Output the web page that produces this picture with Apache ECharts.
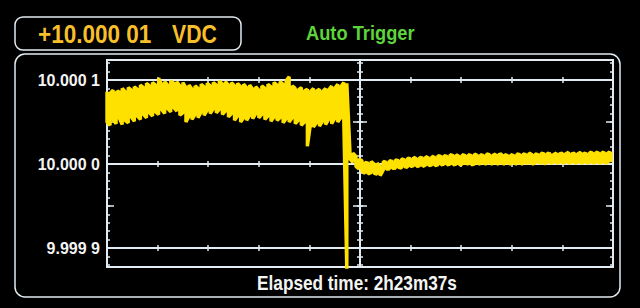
<!DOCTYPE html>
<html><head><meta charset="utf-8">
<script src="https://cdn.jsdelivr.net/npm/echarts@6/dist/echarts.min.js"></script>
<style>html,body{margin:0;padding:0;background:#000;}#c{width:640px;height:308px;}</style>
</head><body><div id="c"></div>
<script>
// ---- text ----
const readoutValue = '+10.000 01';
const readoutUnit = 'VDC';
const triggerText = 'Auto Trigger';
const elapsedText = 'Elapsed time: 2h23m37s';
// ---- y axis (deviation from 10 V, in µV) ----
const yTickValues = [-100, 0, 100];
const yTickLabels = ['9.999 9', '10.000 0', '10.000 1'];
// ---- trend columns (min / max per display column, µV from 10 V) ----
const colStep = 6; // x units per column, x runs 0..1000
const hiBefore = [86,84,88,85,87,90,86,91,88,92,89,94,91,96,93,97,94,102,95,98,94,99,96,98,93,97,91,94,89,93,90,95,92,96,93,97,94,99,95,98,94,97,93,96,92,95,91,94,89,92,88,93,90,95,92,97,94,98,95,99,104,93,90,88,91,87,89,86,90,87,89,86,90,88,93,90,95,92,97];
const loBefore = [50,46,53,48,55,47,52,49,56,51,57,53,59,55,61,57,62,59,65,60,66,62,67,63,58,61,50,57,53,59,55,62,58,64,60,66,61,65,59,63,56,60,52,57,50,55,52,58,54,60,55,59,53,57,51,56,52,55,49,54,50,55,48,52,46,50,21,47,44,49,45,51,47,53,48,54,50,55,49];
const hiGlitch = 96, loGlitch = -130;
const hiAfter = [17,13,9,6,4,2,1,3,0,1,-3,3,2,4,3,5,4,6,5,7,6,8,6,8,7,9,7,9,8,10,9,10,9,11,10,11,9,11,10,11,10,12,10,11,10,12,11,10,12,11,12,11,10,11,10,12,11,12,11,13,11,12,11,13,12,13,12,11,13,12,13,12,14,12,13,12,14,13,12,14,13,14,13,14,13,14,13];
const loAfter = [6,2,-3,-6,-9,-11,-12,-10,-11,-12,-14,-7,-6,-6,-5,-5,-4,-5,-3,-4,-3,-2,-3,-2,-3,-1,-2,-1,-2,-1,-1,0,-1,0,-1,0,-1,0,1,0,-1,0,1,0,1,0,1,0,1,0,1,0,1,0,1,0,1,0,1,1,0,1,2,1,0,2,1,2,1,2,1,2,1,2,1,2,1,2,1,2,1,2,1,2,1,2,2];

const hi = hiBefore.concat([hiGlitch], hiAfter);
const lo = loBefore.concat([loGlitch], loAfter);
const trace = [];
hi.forEach((h, k) => {
  const x = k * colStep;
  if (k % 2 === 0) { trace.push([x, h], [x, lo[k]]); }
  else { trace.push([x, lo[k]], [x, h]); }
});

const FONT = '"Liberation Sans", Arial, sans-serif';
const LINE = '#e2ecf2';
const YEL = '#ffe100';

const PL = 107, PW = 506, PT = 60, PH = 207;  // plot frame
const zeroY = 164, pxPerUV = 0.84;
const g1Top = zeroY - 120 * pxPerUV, g2Top = zeroY - 100 * pxPerUV;
const cx = PL + PW / 2;

function tickAxisY(grid, min, max, interval, pos, offset, len) {
  return { gridIndex: grid, type: 'value', min, max, interval, position: pos, offset,
    axisLine: { show: false, onZero: false }, splitLine: { show: false }, axisLabel: { show: false },
    axisTick: { show: true, inside: true, length: len, lineStyle: { color: LINE, width: 1.5 } } };
}
function tickAxisX(offset) {
  return { gridIndex: 2, type: 'value', min: 0, max: 1000, interval: 100, position: 'bottom', offset,
    axisLine: { show: false, onZero: false }, splitLine: { show: false }, axisLabel: { show: false },
    axisTick: { show: true, inside: false, length: 6, lineStyle: { color: LINE, width: 1.5 } } };
}

const chart = echarts.init(document.getElementById('c'), null, { renderer: 'svg' });
chart.setOption({
  backgroundColor: '#000',
  animation: false,
  grid: [
    { left: PL, top: PT, width: PW, height: PH, show: true, borderColor: LINE, borderWidth: 2, backgroundColor: 'transparent' },
    { left: PL, top: g1Top, width: PW, height: 240 * pxPerUV, show: false },
    { left: PL, top: g2Top, width: PW, height: 200 * pxPerUV, show: false }
  ],
  xAxis: [
    { gridIndex: 0, type: 'value', min: 0, max: 1000, show: false, axisLine: { onZero: false } },
    { gridIndex: 1, type: 'value', min: 0, max: 1000, show: false, axisLine: { onZero: false } },
    tickAxisX(-3),
    tickAxisX(-3 - 100 * pxPerUV),
    tickAxisX(-3 - 200 * pxPerUV)
  ],
  yAxis: [
    { gridIndex: 0, type: 'value', min: -(267 - zeroY) / pxPerUV, max: (zeroY - 60) / pxPerUV, show: false, axisLine: { onZero: false } },
    { gridIndex: 0, type: 'value', min: -(267 - zeroY) / pxPerUV, max: (zeroY - 60) / pxPerUV, position: 'left', offset: -(cx - PL),
      axisLine: { show: true, onZero: false, lineStyle: { color: LINE, width: 2 } }, axisTick: { show: false }, axisLabel: { show: false }, splitLine: { show: false } },
    tickAxisY(1, -120, 120, 10, 'left', 0, 3),
    tickAxisY(1, -120, 120, 10, 'right', 0, 3),
    tickAxisY(1, -120, 120, 10, 'left', -(cx - 3 - PL), 6),
    tickAxisY(2, -100, 100, 50, 'left', 0, 7),
    tickAxisY(2, -100, 100, 50, 'right', 0, 7),
    tickAxisY(2, -100, 100, 50, 'left', -(cx - 7 - PL), 14),
    { gridIndex: 2, type: 'value', min: -100, max: 100, interval: 100, position: 'left',
      axisLine: { show: false, onZero: false }, axisTick: { show: false },
      splitLine: { show: true, lineStyle: { color: LINE, width: 2 } },
      axisLabel: { show: true, showMinLabel: true, showMaxLabel: true, margin: 7, color: '#f4f4f4',
        fontSize: 16, fontWeight: 'bold', fontFamily: FONT,
        formatter: v => { const i = yTickValues.indexOf(Math.round(v)); return i >= 0 ? yTickLabels[i] : ''; } } }
  ],
  series: [{
    type: 'line', xAxisIndex: 0, yAxisIndex: 0, data: trace, symbol: 'none', showSymbol: false,
    lineStyle: { color: YEL, width: 3.4, join: 'bevel', cap: 'butt' }, clip: true, z: 3
  }],
  graphic: [
    { type: 'rect', shape: { x: 15, y: 17, width: 226, height: 33, r: 8 }, style: { fill: 'none', stroke: LINE, lineWidth: 1.5 } },
    { type: 'rect', shape: { x: 15, y: 54, width: 605, height: 243, r: 10 }, style: { fill: 'none', stroke: LINE, lineWidth: 1.5 } },
    { type: 'text', x: 38, y: 34, scaleX: 0.9, style: { text: readoutValue, fill: '#f7bf2a', font: 'bold 25px ' + FONT, textAlign: 'left', textVerticalAlign: 'middle' } },
    { type: 'text', x: 172, y: 34, scaleX: 0.85, style: { text: readoutUnit, fill: '#f7bf2a', font: 'bold 25px ' + FONT, textAlign: 'left', textVerticalAlign: 'middle' } },
    { type: 'text', x: 306, y: 33, scaleX: 0.87, style: { text: triggerText, fill: '#5ed43c', font: 'bold 21px ' + FONT, textAlign: 'left', textVerticalAlign: 'middle' } },
    { type: 'text', x: 357, y: 283, scaleX: 0.82, style: { text: elapsedText, fill: '#f4f4f4', font: 'bold 21px ' + FONT, textAlign: 'center', textVerticalAlign: 'middle' } }
  ]
});
</script></body></html>
